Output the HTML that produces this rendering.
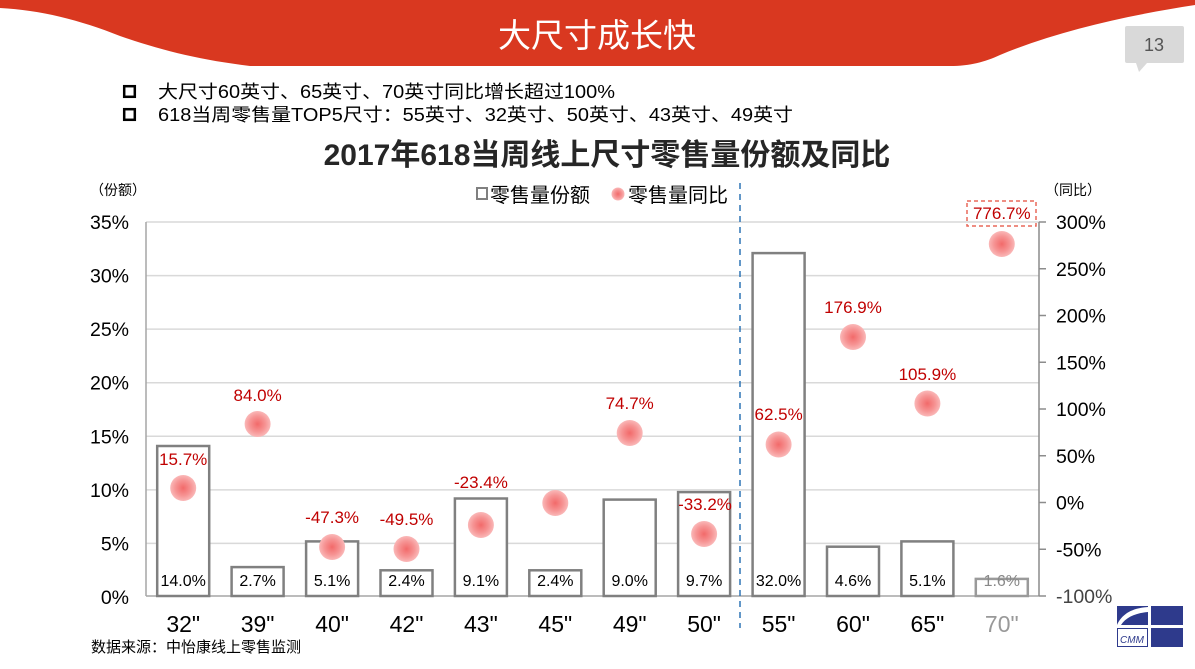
<!DOCTYPE html>
<html>
<head>
<meta charset="utf-8">
<style>
html,body{margin:0;padding:0;background:#fff;}
body{width:1195px;height:669px;overflow:hidden;position:relative;font-family:"Liberation Sans","Noto Sans CJK SC",sans-serif;}
svg{position:absolute;left:0;top:0;}
</style>
</head>
<body>
<svg width="1195" height="669" viewBox="0 0 1195 669" xmlns="http://www.w3.org/2000/svg" font-family="Liberation Sans, Noto Sans CJK SC, sans-serif">
<defs>
<radialGradient id="dot" cx="50%" cy="50%" r="50%">
<stop offset="0" stop-color="#f26a6a"/>
<stop offset="0.6" stop-color="#f69494"/>
<stop offset="1" stop-color="#fab8b8"/>
</radialGradient>
</defs>
<!-- banner -->
<path d="M0,0 H1195 V5 C1130,15 1060,30 1000,55 C985,62 970,66 950,66 H250 C200,60 160,50 120,36 C80,20 40,10 0,8 Z" fill="#d93820"/>
<text x="597" y="47" text-anchor="middle" fill="#fff" font-size="33">大尺寸成长快</text>
<!-- page number -->
<rect x="1125" y="26" width="59" height="37" rx="2" fill="#d9d9d9"/>
<path d="M1136,63 L1139,72 L1147,63 Z" fill="#d9d9d9"/>
<text x="1154" y="51" text-anchor="middle" fill="#555" font-size="18">13</text>
<!-- bullets -->
<rect x="124.2" y="86.2" width="10.6" height="10.6" fill="none" stroke="#000" stroke-width="2.5"/>
<rect x="124.2" y="109.2" width="10.6" height="10.6" fill="none" stroke="#000" stroke-width="2.5"/>
<text x="158" y="98" font-size="18" fill="#000" textLength="457" lengthAdjust="spacingAndGlyphs">大尺寸60英寸、65英寸、70英寸同比增长超过100%</text>
<text x="158" y="121" font-size="18" fill="#000" textLength="635" lengthAdjust="spacingAndGlyphs">618当周零售量TOP5尺寸：55英寸、32英寸、50英寸、43英寸、49英寸</text>
<!-- chart title -->
<text x="607" y="165" text-anchor="middle" font-size="30" font-weight="bold" fill="#262626">2017年618当周线上尺寸零售量份额及同比</text>
<!-- legend -->
<rect x="477" y="188" width="10" height="11" fill="none" stroke="#808080" stroke-width="2"/>
<text x="490" y="202" font-size="20" fill="#000">零售量份额</text>
<circle cx="618" cy="194" r="6.5" fill="url(#dot)"/>
<text x="628" y="202" font-size="20" fill="#000">零售量同比</text>
<!-- axis titles -->
<text x="90" y="195" font-size="14" fill="#000">（份额）</text>
<text x="1045" y="195" font-size="14" fill="#000">（同比）</text>
<!-- gridlines -->
<g stroke="#d9d9d9" stroke-width="1.5">
<line x1="146" y1="222" x2="1039" y2="222"/>
<line x1="146" y1="275.6" x2="1039" y2="275.6"/>
<line x1="146" y1="329.1" x2="1039" y2="329.1"/>
<line x1="146" y1="382.7" x2="1039" y2="382.7"/>
<line x1="146" y1="436.3" x2="1039" y2="436.3"/>
<line x1="146" y1="489.9" x2="1039" y2="489.9"/>
<line x1="146" y1="543.4" x2="1039" y2="543.4"/>
</g>
<!-- axes -->
<line x1="146" y1="222" x2="146" y2="596" stroke="#a6a6a6" stroke-width="1.5"/>
<line x1="146" y1="596" x2="1039" y2="596" stroke="#a6a6a6" stroke-width="1.5"/>
<line x1="1039" y1="222" x2="1039" y2="596" stroke="#8c8c8c" stroke-width="1.5"/>
<g stroke="#8c8c8c" stroke-width="1.5">
<line x1="1039" y1="222" x2="1046" y2="222"/>
<line x1="1039" y1="268.75" x2="1046" y2="268.75"/>
<line x1="1039" y1="315.5" x2="1046" y2="315.5"/>
<line x1="1039" y1="362.25" x2="1046" y2="362.25"/>
<line x1="1039" y1="409" x2="1046" y2="409"/>
<line x1="1039" y1="455.75" x2="1046" y2="455.75"/>
<line x1="1039" y1="502.5" x2="1046" y2="502.5"/>
<line x1="1039" y1="549.25" x2="1046" y2="549.25"/>
<line x1="1039" y1="596" x2="1046" y2="596"/>
</g>
<!-- left tick labels -->
<g font-size="19.5" fill="#000" text-anchor="end">
<text x="129" y="229">35%</text>
<text x="129" y="282.6">30%</text>
<text x="129" y="336.1">25%</text>
<text x="129" y="389.7">20%</text>
<text x="129" y="443.3">15%</text>
<text x="129" y="496.9">10%</text>
<text x="129" y="550.4">5%</text>
<text x="129" y="604">0%</text>
</g>
<!-- right tick labels -->
<g font-size="19.5" fill="#000">
<text x="1056" y="229">300%</text>
<text x="1056" y="275.75">250%</text>
<text x="1056" y="322.5">200%</text>
<text x="1056" y="369.25">150%</text>
<text x="1056" y="416">100%</text>
<text x="1056" y="462.75">50%</text>
<text x="1056" y="509.5">0%</text>
<text x="1056" y="556.25">-50%</text>
<text x="1056" y="603" fill="#444">-100%</text>
</g>
<!-- dashed separator -->
<line x1="740" y1="183" x2="740" y2="628" stroke="#2e75b6" stroke-width="1.5" stroke-dasharray="6,5"/>
<!-- bars -->
<g fill="#fff" stroke="#808080" stroke-width="2.5">
<rect x="157.2" y="446" width="52" height="150"/>
<rect x="231.6" y="567.1" width="52" height="28.9"/>
<rect x="306.1" y="541.4" width="52" height="54.6"/>
<rect x="380.5" y="570.3" width="52" height="25.7"/>
<rect x="454.9" y="498.5" width="52" height="97.5"/>
<rect x="529.3" y="570.3" width="52" height="25.7"/>
<rect x="603.7" y="499.6" width="52" height="96.4"/>
<rect x="678.1" y="492.1" width="52" height="103.9"/>
<rect x="752.6" y="253.1" width="52" height="342.9"/>
<rect x="827" y="546.7" width="52" height="49.3"/>
<rect x="901.4" y="541.4" width="52" height="54.6"/>
<rect x="975.8" y="578.9" width="52" height="17.1" stroke="#9a9a9a"/>
</g>
<!-- bar value labels -->
<g font-size="16" fill="#000" text-anchor="middle">
<text x="183.2" y="586">14.0%</text>
<text x="257.6" y="586">2.7%</text>
<text x="332.1" y="586">5.1%</text>
<text x="406.5" y="586">2.4%</text>
<text x="480.9" y="586">9.1%</text>
<text x="555.3" y="586">2.4%</text>
<text x="629.7" y="586">9.0%</text>
<text x="704.1" y="586">9.7%</text>
<text x="778.6" y="586">32.0%</text>
<text x="853" y="586">4.6%</text>
<text x="927.4" y="586">5.1%</text>
<text x="1001.8" y="586" fill="#888">1.6%</text>
</g>
<!-- category labels -->
<g font-size="23" fill="#000" text-anchor="middle">
<text x="183.2" y="632">32"</text>
<text x="257.6" y="632">39"</text>
<text x="332.1" y="632">40"</text>
<text x="406.5" y="632">42"</text>
<text x="480.9" y="632">43"</text>
<text x="555.3" y="632">45"</text>
<text x="629.7" y="632">49"</text>
<text x="704.1" y="632">50"</text>
<text x="778.6" y="632">55"</text>
<text x="853" y="632">60"</text>
<text x="927.4" y="632">65"</text>
<text x="1001.8" y="632" fill="#999">70"</text>
</g>
<!-- dots -->
<g fill="url(#dot)">
<circle cx="183.2" cy="488" r="13"/>
<circle cx="257.6" cy="424" r="13"/>
<circle cx="332.1" cy="547" r="13"/>
<circle cx="406.5" cy="549" r="13"/>
<circle cx="480.9" cy="525" r="13"/>
<circle cx="555.3" cy="503" r="13"/>
<circle cx="629.7" cy="433" r="13"/>
<circle cx="704.1" cy="534" r="13"/>
<circle cx="778.6" cy="444.5" r="13"/>
<circle cx="853" cy="337" r="13"/>
<circle cx="927.4" cy="403.5" r="13"/>
<circle cx="1001.8" cy="244" r="13"/>
</g>
<!-- dot labels -->
<g font-size="17" fill="#c00000" text-anchor="middle">
<text x="183.2" y="465">15.7%</text>
<text x="257.6" y="401">84.0%</text>
<text x="332.1" y="523">-47.3%</text>
<text x="406.5" y="525">-49.5%</text>
<text x="480.9" y="488">-23.4%</text>
<text x="629.7" y="409">74.7%</text>
<text x="705" y="510">-33.2%</text>
<text x="778.6" y="420">62.5%</text>
<text x="853" y="313">176.9%</text>
<text x="927.4" y="380">105.9%</text>
<text x="1001.8" y="219">776.7%</text>
</g>
<rect x="967" y="201" width="69" height="25" fill="none" stroke="#e8685a" stroke-width="1.5" stroke-dasharray="4,3"/>
<!-- source -->
<text x="91" y="652" font-size="15" fill="#000">数据来源：中怡康线上零售监测</text>
<!-- CMM logo -->
<g>
<rect x="1117" y="606" width="31" height="19" fill="#2e3a8c"/>
<path d="M1117,625 C1122,614 1132,608 1148,607 L1148,612 C1136,613 1126,617 1121,625 Z" fill="#fff"/>
<rect x="1151" y="606" width="32" height="19" fill="#2e3a8c"/>
<rect x="1117.5" y="628.5" width="30" height="18" fill="#fff" stroke="#2e3a8c" stroke-width="1"/>
<text x="1132" y="643" font-size="10" font-style="italic" fill="#2e3a8c" text-anchor="middle">CMM</text>
<rect x="1151" y="628" width="32" height="19" fill="#2e3a8c"/>
</g>
</svg>
</body>
</html>
